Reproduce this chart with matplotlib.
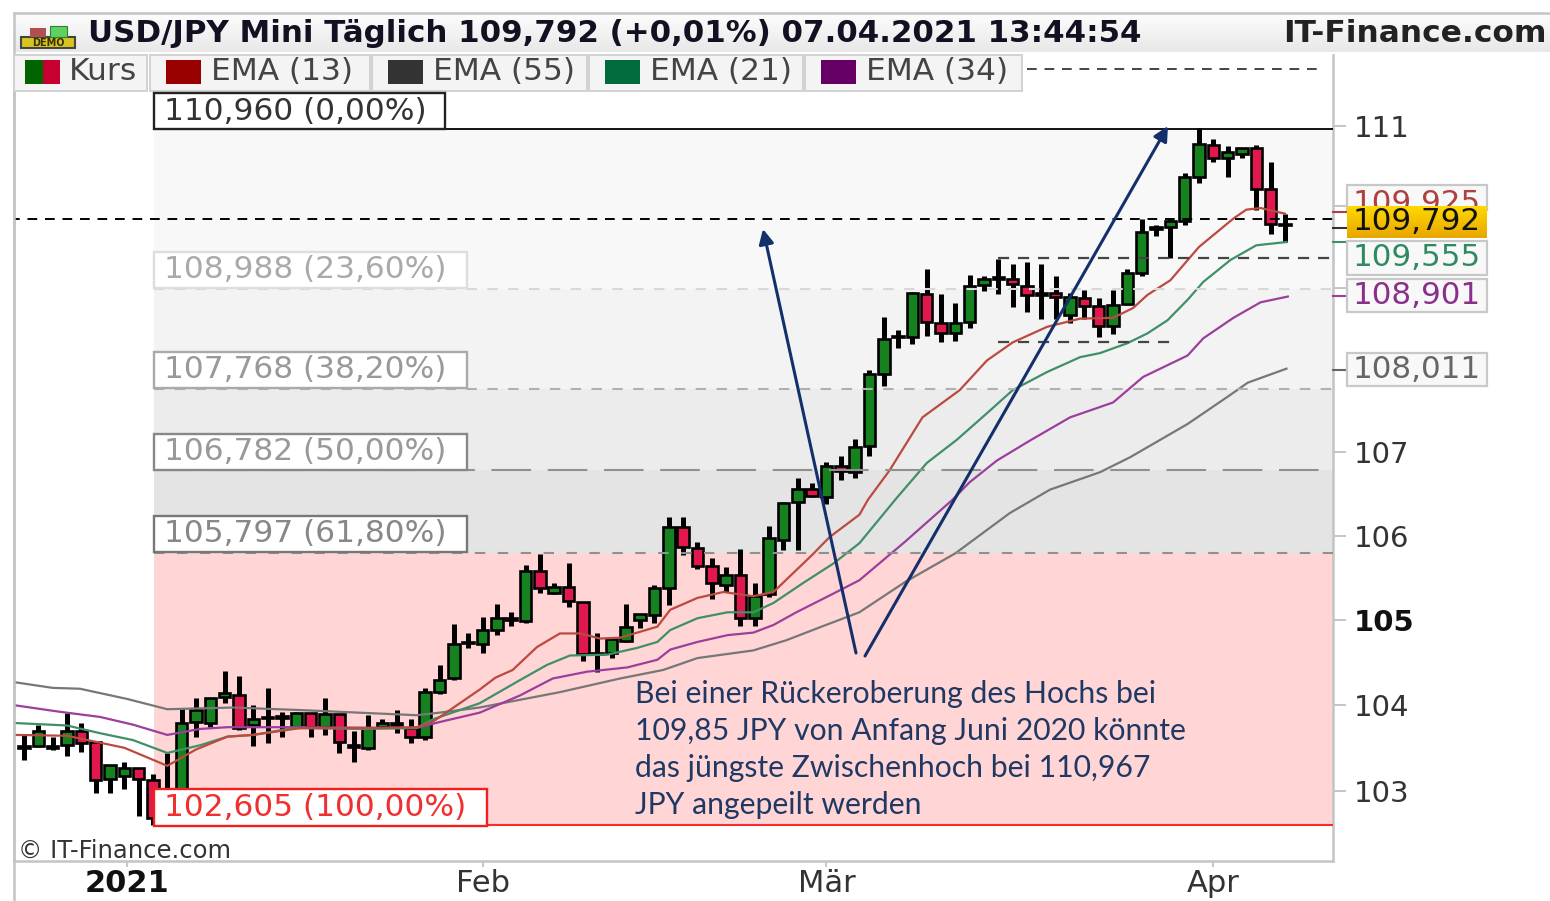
import matplotlib
matplotlib.use('Agg')
import matplotlib.pyplot as plt
import numpy as np
from matplotlib.patches import Rectangle

# candles, one per trading day (oldest first)
opens = [103.52, 103.52, 103.50, 103.53, 103.69, 103.57, 103.14, 103.17, 103.26, 103.13,
         103.01, 102.95, 103.80, 103.79, 104.09, 104.12, 103.76, 103.85, 103.85, 103.74,
         103.91, 103.74, 103.90, 103.53, 103.50, 103.74, 103.79, 103.73, 103.62, 104.15,
         104.31, 104.74, 104.72, 104.88, 105.02, 104.99, 105.58, 105.32, 105.39, 105.21,
         104.60, 104.61, 104.75, 105.00, 105.06, 105.38, 106.10, 105.85, 105.64, 105.41,
         105.53, 105.02, 105.31, 105.95, 106.40, 106.56, 106.46, 106.83, 106.76, 107.07,
         107.94, 108.39, 108.40, 108.92, 108.57, 108.44, 108.58, 109.03, 109.11, 109.10,
         109.02, 108.91, 108.93, 108.66, 108.87, 108.77, 108.53, 108.80, 109.18, 109.72,
         109.75, 109.82, 110.37, 110.76, 110.60, 110.65, 110.72, 110.21, 109.77]
closes = [103.50, 103.69, 103.52, 103.69, 103.56, 103.13, 103.30, 103.26, 103.14, 102.69,
          102.90, 103.79, 103.94, 104.08, 104.14, 103.73, 103.83, 103.86, 103.87, 103.91,
          103.74, 103.90, 103.57, 103.51, 103.73, 103.79, 103.76, 103.63, 104.15, 104.29,
          104.72, 104.73, 104.88, 105.02, 105.00, 105.58, 105.38, 105.39, 105.22, 104.60,
          104.61, 104.78, 104.92, 105.07, 105.38, 106.10, 105.86, 105.64, 105.44, 105.53,
          105.02, 105.28, 105.97, 106.39, 106.56, 106.47, 106.83, 106.77, 107.06, 107.94,
          108.37, 108.41, 108.93, 108.58, 108.44, 108.57, 109.02, 109.11, 109.13, 109.04,
          108.91, 108.93, 108.88, 108.88, 108.77, 108.53, 108.79, 109.18, 109.68, 109.74,
          109.82, 110.37, 110.77, 110.60, 110.67, 110.72, 110.21, 109.78, 109.78]
highs = [103.65, 103.76, 103.63, 103.91, 103.79, 103.57, 103.30, 103.33, 103.26, 103.20,
         103.44, 103.97, 104.08, 104.08, 104.40, 104.34, 104.00, 104.20, 103.92, 103.92,
         103.91, 104.08, 103.90, 103.69, 103.88, 103.84, 103.94, 103.84, 104.20, 104.47,
         104.95, 104.85, 105.04, 105.19, 105.09, 105.65, 105.78, 105.44, 105.67, 105.21,
         104.85, 104.80, 105.19, 105.07, 105.41, 106.22, 106.22, 105.92, 105.73, 105.63,
         105.84, 105.44, 106.11, 106.40, 106.69, 106.63, 106.88, 106.95, 107.16, 108.00,
         108.64, 108.48, 108.94, 109.23, 108.92, 108.81, 109.16, 109.14, 109.35, 109.29,
         109.31, 109.29, 109.14, 108.93, 108.97, 108.87, 108.97, 109.23, 109.85, 109.77,
         109.84, 110.41, 110.97, 110.84, 110.75, 110.72, 110.76, 110.55, 109.91]
lows = [103.36, 103.51, 103.48, 103.40, 103.45, 102.97, 102.98, 103.02, 102.71, 102.60,
        102.80, 102.90, 103.62, 103.74, 104.02, 103.71, 103.52, 103.56, 103.62, 103.73,
        103.63, 103.65, 103.44, 103.33, 103.48, 103.73, 103.67, 103.55, 103.59, 104.13,
        104.29, 104.67, 104.61, 104.82, 104.93, 104.96, 105.32, 105.31, 105.15, 104.51,
        104.39, 104.55, 104.74, 104.91, 104.96, 105.18, 105.77, 105.60, 105.25, 105.33,
        104.93, 104.93, 105.27, 105.83, 105.83, 106.46, 106.38, 106.66, 106.69, 106.96,
        107.80, 108.26, 108.31, 108.41, 108.33, 108.35, 108.50, 108.96, 108.92, 108.76,
        108.70, 108.61, 108.61, 108.57, 108.61, 108.39, 108.43, 108.79, 109.14, 109.64,
        109.36, 109.77, 110.29, 110.55, 110.36, 110.60, 109.95, 109.66, 109.56]

ema13_x = [-0.7, 3, 7, 10, 12, 14.2, 16, 19.3, 24, 27.4, 28.5, 31.8, 32.9, 34.1, 35.8, 37.4,
           38.8, 40.2, 41.6, 44.2, 45.1, 47, 48.8, 50.9, 52.3, 55, 56.2, 58.3, 58.9, 60.4,
           62.7, 65.3, 67.2, 69, 71.4, 73.7, 76, 77.4, 78.4, 80, 82, 84.4, 85.3, 86.3, 88]
ema13_y = [103.65, 103.64, 103.50, 103.29, 103.48, 103.63, 103.65, 103.73, 103.73, 103.74,
           103.80, 104.18, 104.32, 104.41, 104.68, 104.84, 104.84, 104.78, 104.79, 104.92,
           105.12, 105.26, 105.33, 105.28, 105.33, 105.77, 105.98, 106.25, 106.43, 106.78,
           107.42, 107.75, 108.11, 108.33, 108.52, 108.62, 108.63, 108.75, 108.91, 109.09,
           109.50, 109.85, 109.96, 109.98, 109.91]
ema21_x = [-0.8, 3, 5.3, 7.6, 10, 12.3, 14.2, 16, 18.8, 23.9, 27.4, 28.5, 31.8, 34.6, 36.5,
           38.1, 40.7, 42.8, 44.2, 45.1, 47, 49.1, 50.9, 52.3, 54.4, 56.5, 58.3, 60.9, 63,
           65.1, 67.2, 69, 71.4, 73.7, 75.1, 77, 78.4, 79.8, 81.2, 82.3, 84.2, 86, 88.1]
ema21_y = [103.79, 103.76, 103.67, 103.59, 103.44, 103.53, 103.63, 103.65, 103.73, 103.72,
           103.73, 103.83, 104.02, 104.29, 104.47, 104.58, 104.59, 104.67, 104.74, 104.88,
           105.02, 105.09, 105.09, 105.20, 105.44, 105.67, 105.91, 106.45, 106.87, 107.15,
           107.47, 107.75, 107.97, 108.15, 108.20, 108.32, 108.44, 108.60, 108.85, 109.07,
           109.34, 109.52, 109.56]
ema34_x = [-0.8, 2.5, 5.3, 7.6, 10, 12.3, 14.2, 19.3, 27.4, 29, 31.8, 34.6, 36.9, 39.3, 42.1,
           44.2, 45.1, 47, 49.1, 50.9, 52.3, 53.9, 56.7, 58.3, 61.5, 64.8, 66, 67.9, 70.2,
           73, 76, 78.1, 81.2, 82.3, 84.4, 86.3, 88.2]
ema34_y = [104.00, 103.92, 103.86, 103.77, 103.65, 103.72, 103.74, 103.74, 103.73, 103.80,
           103.91, 104.11, 104.31, 104.39, 104.44, 104.53, 104.65, 104.74, 104.82, 104.85,
           104.94, 105.09, 105.33, 105.47, 105.93, 106.43, 106.64, 106.90, 107.14, 107.42,
           107.60, 107.91, 108.17, 108.38, 108.63, 108.82, 108.89]
ema55_x = [-0.8, 2, 3.9, 7.2, 10, 14.6, 19.3, 27.4, 29, 31.8, 37.4, 41.6, 44.6, 47, 50.9,
           53.2, 55.5, 58.3, 61.5, 65, 68.8, 71.6, 75.1, 77.2, 81.2, 84, 85.4, 88.1]
ema55_y = [104.27, 104.20, 104.19, 104.07, 103.95, 103.97, 103.94, 103.88, 103.91, 103.97,
           104.15, 104.31, 104.41, 104.55, 104.64, 104.76, 104.91, 105.09, 105.45, 105.79,
           106.27, 106.55, 106.76, 106.94, 107.34, 107.67, 107.84, 108.01]

# fibonacci levels
fib_levels = [110.960, 108.988, 107.768, 106.782, 105.797, 102.605]
fib_labels = ['110,960 (0,00%)', '108,988 (23,60%)', '107,768 (38,20%)',
              '106,782 (50,00%)', '105,797 (61,80%)', '102,605 (100,00%)']
band_colors = ['#f8f8f8', '#f3f3f3', '#ececec', '#e4e4e4', '#ffd5d5']

# hand drawn lines
resistance = 109.85
upper_dash = 111.71
channel_top = 109.36
channel_bottom = 108.33

ytick_vals = [103, 104, 105, 106, 107, 108, 109, 110, 111]
ytick_labels = ['103', '104', '105', '106', '107', '', '', '', '111']
xtick_pos = [7.2, 32, 56, 83]
xtick_labels = ['2021', 'Feb', 'Mär', 'Apr']

GREEN = '#16821f'
RED = '#e0184e'
FONT = 'DejaVu Sans'

W, H = 1550, 901
fig = plt.figure(figsize=(W / 100, H / 100), dpi=100)
ax = fig.add_axes([14 / W, 1 - 861 / H, (1333 - 14) / W, (861 - 55) / H])
ax.set_yscale('log')

x = np.arange(len(opens))
up = np.array(closes) >= np.array(opens)

# fib bands and level lines
x0 = 9.07
for i, col in enumerate(band_colors):
    ax.fill_between([x0, 92], fib_levels[i + 1], fib_levels[i], color=col, lw=0, zorder=1)

ax.vlines(x, lows, highs, color='black', lw=3.6, zorder=3)
ax.bar(x, np.abs(np.array(closes) - np.array(opens)), bottom=np.minimum(opens, closes), width=0.8,
       color=[GREEN if u else RED for u in up], edgecolor='black', linewidth=1.9, zorder=4)

ax.plot(ema55_x, ema55_y, color='#777777', lw=1.6, zorder=5)
ax.plot(ema34_x, ema34_y, color='#9c3f9c', lw=1.6, zorder=5)
ax.plot(ema21_x, ema21_y, color='#3f9068', lw=1.6, zorder=5)
ax.plot(ema13_x, ema13_y, color='#bb4a40', lw=1.6, zorder=5)

ax.hlines(fib_levels[0], x0, 92, color='black', lw=1.3, zorder=6)
ax.hlines(fib_levels[1], x0, 92, color='#d8d8d8', lw=1.5, linestyles=(0, (5, 5)), zorder=6)
ax.hlines(fib_levels[2], x0, 92, color='#b0b0b0', lw=1.5, linestyles=(0, (5, 5)), zorder=6)
ax.hlines(fib_levels[3], x0, 92, color='#909090', lw=1.5, linestyles=(0, (19, 8)), zorder=6)
ax.hlines(fib_levels[4], x0, 92, color='#909090', lw=1.5, linestyles=(0, (5, 6)), zorder=6)
ax.hlines(fib_levels[5], x0, 92, color='#f03030', lw=1.5, zorder=6)
ax.hlines(resistance, -1, 92, color='black', lw=1.4, linestyles=(0, (5, 4)), zorder=6)
ax.hlines(upper_dash, 70, 90.7, color='#444444', lw=1.4, linestyles=(0, (5, 4)), zorder=6)
ax.hlines(channel_top, 68, 92, color='#444444', lw=1.6, linestyles=(0, (5, 4)), zorder=6)
ax.hlines(channel_bottom, 68, 80, color='#444444', lw=1.6, linestyles=(0, (5, 4)), zorder=6)

ax.set_xlim(-0.698, 91.35)
ax.set_ylim(102.19, 111.89)
ax.minorticks_off()
ax.yaxis.tick_right()
ax.set_yticks(ytick_vals)
ax.set_yticklabels(ytick_labels, fontsize=21, family=FONT, color='#333333')
ax.get_yticklabels()[2].set_fontweight('bold')
ax.get_yticklabels()[2].set_color('#111111')
ax.tick_params(axis='y', which='major', length=9, width=1.2, color='#bbbbbb', pad=6)
ax.yaxis.set_minor_locator(matplotlib.ticker.NullLocator())
ax.set_xticks(xtick_pos)
ax.set_xticklabels(xtick_labels, fontsize=22, family=FONT, color='#333333')
ax.get_xticklabels()[0].set_fontweight('bold')
ax.get_xticklabels()[0].set_color('#111111')
ax.tick_params(axis='x', length=4, width=1.2, color='#bbbbbb', pad=2)
ax.spines['top'].set_visible(False)
for s in ['left', 'right', 'bottom']:
    ax.spines[s].set_color('#c4c4c4')
    ax.spines[s].set_linewidth(1.8)

# overlay in pixel coordinates for header, boxes and notes
ov = fig.add_axes([0, 0, 1, 1], zorder=10)
ov.patch.set_alpha(0)
ov.axis('off')


def box(x1, y1, x2, y2, fc='white', ec='none', lw=1.5, z=2):
    ov.add_patch(Rectangle((x1, y1), x2 - x1, y2 - y1, facecolor=fc, edgecolor=ec, linewidth=lw, zorder=z))


def gradient(x1, y1, x2, y2, top, bottom, z=1):
    c = matplotlib.colors.LinearSegmentedColormap.from_list('g', [top, bottom])
    ov.imshow(np.linspace(0, 1, 64).reshape(-1, 1), extent=(x1, x2, y2, y1), cmap=c, aspect='auto', zorder=z)


def label(px, py, s, size=19, color='#333333', weight='normal', ha='left', z=5, family=FONT):
    ov.text(px, py, s, fontsize=size, color=color, fontweight=weight, ha=ha, va='center', family=family, zorder=z)


# header
gradient(14, 13, 1550, 52, '#fdfdfd', '#e8e8e8')
ov.plot([14, 1550], [13, 13], color='#c4c4c4', lw=1.8)
ov.plot([14, 14], [13, 901], color='#c4c4c4', lw=1.8)
box(21, 37, 75, 48, fc='#d8c420', ec='#444444', lw=1.5, z=3)
box(30, 28, 46, 37, fc='#b05050', z=3)
box(50, 26, 67, 37, fc='#60d060', ec='#308030', lw=0.8, z=3)
label(48, 43, 'DEMO', size=7, color='#333300', weight='bold', ha='center')
label(88, 33, 'USD/JPY Mini Täglich 109,792 (+0,01%) 07.04.2021 13:44:54', size=22.2, color='#111122', weight='bold')
label(1547, 33, 'IT-Finance.com', size=22.5, color='#222222', weight='bold', ha='right')

# legend row
leg_boxes = [(14, 147), (150, 370), (372, 587), (589, 803), (805, 1022)]
leg_text = ['Kurs', 'EMA (13)', 'EMA (55)', 'EMA (21)', 'EMA (34)']
leg_cols = [None, '#990000', '#333333', '#006b3c', '#660066']
for (a, b), t, c in zip(leg_boxes, leg_text, leg_cols):
    box(a, 55, b, 91, fc='#f4f4f4', ec='#d2d2d2', lw=1.4)
    if c is None:
        box(a + 11, 60, a + 29, 84, fc='#006400', z=3)
        box(a + 29, 60, a + 46, 84, fc='#c80032', z=3)
    else:
        box(a + 16, 60, a + 51, 84, fc=c, z=3)
    label(a + (55 if c is None else 61), 72, t, size=22.5, color='#444444')

# fib labels
fib_boxes = [(93, 129, 445), (252, 288, 467), (352, 388, 467), (434, 470, 467), (516, 552, 467), (789, 826, 487)]
fib_edges = ['#222222', '#dddddd', '#aaaaaa', '#888888', '#777777', '#f02020']
fib_text = ['#333333', '#aaaaaa', '#999999', '#999999', '#888888', '#f03030']
for (t, b, r), s, ec, tc in zip(fib_boxes, fib_labels, fib_edges, fib_text):
    box(154, t, r, b, fc='white', ec=ec, lw=1.7)
    label(164, (t + b) / 2, s, size=22.5, color=tc)

# labels at the right edge of the axis
for yy, c in [(212, '#b04040'), (228, '#333333'), (242, '#3f9068'), (296, '#9c3f9c'), (370, '#666666')]:
    ov.plot([1333, 1347], [yy, yy], color=c, lw=1.5, zorder=1)
right_boxes = [(185, 210, '109,925', '#b04040', 204), (241, 275, '109,555', '#2f8a60', 258),
               (279, 312, '108,901', '#8a2f8a', 296), (353, 386, '108,011', '#666666', 370)]
for t, b, s, c, ty in right_boxes:
    box(1347, t, 1487, b, fc='#f8f8f8', ec='#c8c8c8', lw=1.6)
    label(1353, ty, s, size=22.3, color=c)
gradient(1347, 206, 1487, 238, '#ffd900', '#e8a600', z=7)
label(1353, 222, '109,792', size=22.3, color='#111111', z=8)

label(18, 851, '© IT-Finance.com', size=17.5, color='#333333')

# note with arrows
navy = '#14306a'
ov.annotate('', xy=(763, 229), xytext=(856, 653), zorder=6,
            arrowprops=dict(arrowstyle='-|>', color=navy, lw=2.2, mutation_scale=22, shrinkA=0, shrinkB=0))
ov.annotate('', xy=(1168, 126), xytext=(865, 656), zorder=6,
            arrowprops=dict(arrowstyle='-|>', color=navy, lw=2.2, mutation_scale=22, shrinkA=0, shrinkB=0))
note = ['Bei einer Rückeroberung des Hochs bei', '109,85 JPY von Anfang Juni 2020 könnte',
        'das jüngste Zwischenhoch bei 110,967', 'JPY angepeilt werden']
for yy, s in zip([694, 731, 768, 805], note):
    label(635, yy, s, size=21.7, color='#1f3864', family='Lato')

ov.set_xlim(0, W)
ov.set_ylim(H, 0)

fig.savefig('out.png', dpi=100)
